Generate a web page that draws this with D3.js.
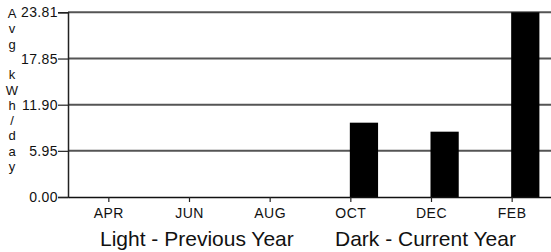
<!DOCTYPE html>
<html>
<head>
<meta charset="utf-8">
<script src="https://cdn.jsdelivr.net/npm/d3@7"></script>
<style>
  body { margin: 0; background: #fff; }
  svg { display: block; font-family: "Liberation Sans", Arial, sans-serif; }
</style>
</head>
<body>
<div id="main"></div>
<script>
// bimonthly periods
var periods = ["APR", "JUN", "AUG", "OCT", "DEC", "FEB"];
var prevYear = [null, null, null, null, null, null]; // light bars, none shown
var currYear = [0, 0, 0, 9.58, 8.42, 23.81];          // dark bars
var yTicks = [0, 5.95, 11.90, 17.85, 23.81];
var yTickLabels = ["0.00", "5.95", "11.90", "17.85", "23.81"];
var yTitle = "Avg kWh/day";

var w = 551, h = 252;

var svg = d3.select("#main")
  .append("svg")
  .attr("width", w)
  .attr("height", h);

var x = d3.scaleBand()
  .domain(periods)
  .range([68.5, 552.5]);

var y = d3.scaleLinear()
  .domain([0, 23.81])
  .range([197, 12.3]);

var barW = x.bandwidth() * 0.35;

// gridlines
svg.append("g")
  .selectAll("line")
  .data(yTicks.slice(1))
  .enter()
  .append("line")
  .attr("x1", 68)
  .attr("x2", w)
  .attr("y1", function(d) { return y(d); })
  .attr("y2", function(d) { return y(d); })
  .attr("stroke", "#555")
  .attr("stroke-width", 2);

// light bars (previous year)
svg.append("g")
  .selectAll("rect")
  .data(periods.map(function(p, i) { return {p: p, v: prevYear[i]}; }).filter(function(d) { return d.v != null; }))
  .enter()
  .append("rect")
  .attr("x", function(d) { return x(d.p) + x.bandwidth() / 2 - barW - 1; })
  .attr("y", function(d) { return y(d.v); })
  .attr("width", barW)
  .attr("height", function(d) { return y(0) - y(d.v); })
  .attr("fill", "#aaa");

// dark bars (current year)
svg.append("g")
  .selectAll("rect")
  .data(periods.map(function(p, i) { return {p: p, v: currYear[i]}; }).filter(function(d) { return d.v > 0; }))
  .enter()
  .append("rect")
  .attr("x", function(d) { return x(d.p) + x.bandwidth() / 2 - 1; })
  .attr("y", function(d) { return y(d.v); })
  .attr("width", barW)
  .attr("height", function(d) { return y(0) - y(d.v); })
  .attr("fill", "#000");

// y axis
var yAxis = svg.append("g")
  .attr("transform", "translate(68,0)")
  .call(d3.axisLeft(y)
    .tickValues(yTicks)
    .tickFormat(function(d, i) { return yTickLabels[i]; })
    .tickSize(10)
    .tickPadding(0));
yAxis.select(".domain").attr("stroke", "#222").attr("stroke-width", 1.5);
yAxis.selectAll(".tick line").attr("stroke", "#222").attr("stroke-width", 1.2);
yAxis.selectAll("text")
  .attr("font-size", 14)
  .attr("letter-spacing", 0.4)
  .attr("fill", "#111")
  .attr("font-family", "Liberation Sans, Arial, sans-serif");

// x axis
var xAxis = svg.append("g")
  .attr("transform", "translate(0,197)")
  .call(d3.axisBottom(x).tickSize(5).tickSizeOuter(0).tickPadding(6));
xAxis.select(".domain").attr("stroke", "#111").attr("stroke-width", 1.5);
xAxis.selectAll(".tick line").attr("stroke", "#222").attr("stroke-width", 1.2);
xAxis.selectAll("text")
  .attr("font-size", 14)
  .attr("letter-spacing", 0.5)
  .attr("fill", "#111")
  .attr("font-family", "Liberation Sans, Arial, sans-serif");

// stacked y title
svg.append("g")
  .selectAll("text")
  .data(yTitle.split(""))
  .enter()
  .append("text")
  .attr("x", 12)
  .attr("y", function(d, i) { return 18 + i * 15.3; })
  .attr("text-anchor", "middle")
  .attr("font-size", 13)
  .attr("font-weight", 500)
  .attr("fill", "#111")
  .text(function(d) { return d; });

// legend captions
svg.append("text")
  .attr("x", 100)
  .attr("y", 246)
  .attr("font-size", 21)
  .attr("fill", "#111")
  .text("Light - Previous Year");

svg.append("text")
  .attr("x", 335)
  .attr("y", 246)
  .attr("font-size", 21)
  .attr("fill", "#111")
  .text("Dark - Current Year");
</script>
</body>
</html>
